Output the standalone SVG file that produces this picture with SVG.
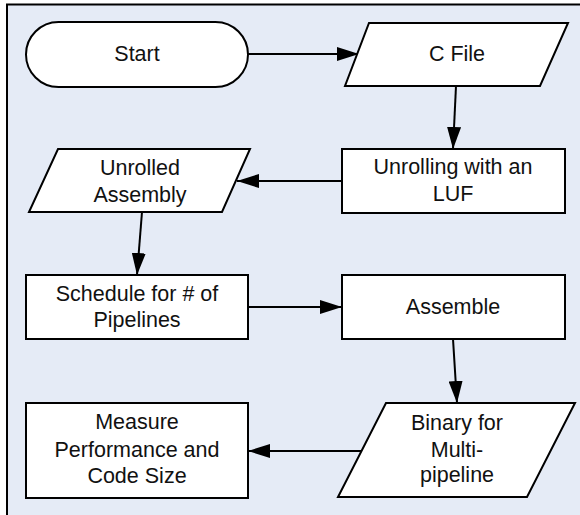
<svg xmlns="http://www.w3.org/2000/svg" width="580" height="515" viewBox="0 0 580 515">
<defs>
<marker id="arr" markerUnits="userSpaceOnUse" markerWidth="22" markerHeight="14" refX="22" refY="7" orient="auto">
<path d="M0,0 L22,7 L0,14 z" fill="#000"/>
</marker>
<style>
.s{fill:#fff;stroke:#000;stroke-width:2;stroke-linejoin:miter}
.t{font-family:"Liberation Sans",Arial,sans-serif;font-size:21.5px;fill:#111;text-anchor:middle}
.c{fill:none;stroke:#000;stroke-width:2;marker-end:url(#arr)}
</style>
</defs>
<rect x="7" y="4.5" width="620" height="560" fill="#E5EBF6" stroke="#000" stroke-width="2"/>
<g id="connectors">
<line class="c" x1="248" y1="54" x2="359" y2="54"/>
<line class="c" x1="456" y1="86" x2="453" y2="149"/>
<line class="c" x1="342" y1="181" x2="237" y2="181"/>
<line class="c" x1="142" y1="212" x2="137" y2="275"/>
<line class="c" x1="248" y1="307" x2="342" y2="307"/>
<line class="c" x1="453" y1="339" x2="457" y2="403"/>
<line class="c" x1="361" y1="451" x2="248" y2="451"/>
</g>
<g id="start">
<rect class="s" x="26" y="22" width="222" height="65" rx="32.5"/>
<text class="t" x="137" y="61">Start</text>
</g>
<g id="cfile">
<polygon class="s" points="369,23 568,23 540,86 345,86"/>
<text class="t" x="457" y="61">C File</text>
</g>
<g id="unrolling">
<rect class="s" x="342" y="149" width="223" height="64"/>
<text class="t" x="453" y="174">Unrolling with an</text>
<text class="t" x="453" y="201">LUF</text>
</g>
<g id="unrolled">
<polygon class="s" points="58,149 250,149 222,212 29,212"/>
<text class="t" x="140" y="175">Unrolled</text>
<text class="t" x="140" y="202">Assembly</text>
</g>
<g id="schedule">
<rect class="s" x="26" y="275" width="222" height="64"/>
<text class="t" x="137" y="301">Schedule for # of</text>
<text class="t" x="137" y="327">Pipelines</text>
</g>
<g id="assemble">
<rect class="s" x="342" y="275" width="223" height="64"/>
<text class="t" x="453" y="314">Assemble</text>
</g>
<g id="binary">
<polygon class="s" points="386,403 575,403 527,497 338,497"/>
<text class="t" x="457" y="430">Binary for</text>
<text class="t" x="457" y="457">Multi-</text>
<text class="t" x="457" y="482">pipeline</text>
</g>
<g id="measure">
<rect class="s" x="26" y="403" width="222" height="95"/>
<text class="t" x="137" y="429">Measure</text>
<text class="t" x="137" y="457">Performance and</text>
<text class="t" x="137" y="483">Code Size</text>
</g>
</svg>
